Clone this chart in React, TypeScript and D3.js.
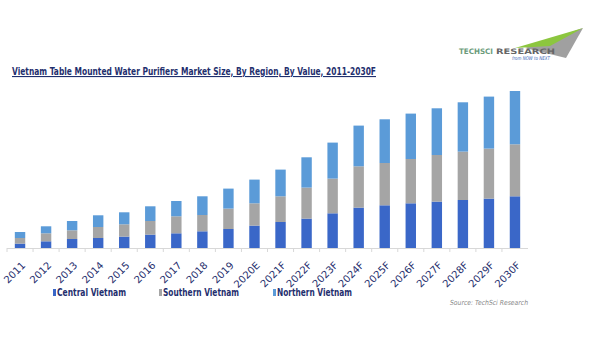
import * as d3 from 'd3';

const years = [
  '2011', '2012', '2013', '2014', '2015', '2016', '2017', '2018', '2019', '2020E',
  '2021F', '2022F', '2023F', '2024F', '2025F', '2026F', '2027F', '2028F', '2029F', '2030F',
];
const central = [4.4, 6.7, 9, 10, 11.4, 13.4, 14.7, 16.7, 19, 22.4, 26, 29.4, 34.7, 40.4, 42.7, 44.7, 46.4, 48, 49.4, 51.7];
const southern = [5.6, 8, 8.7, 11, 12.3, 13.6, 17, 16.3, 20.4, 22.3, 25.7, 31, 34.7, 41.3, 42.3, 44.3, 46.6, 48.4, 50, 52];
const northern = [6, 7, 9.3, 11.7, 12, 14.7, 15.3, 18.7, 20, 23.7, 26.7, 30.3, 36, 40.7, 43.7, 45.4, 46.7, 49.3, 52, 53.3];

const seriesNames = ['Central Vietnam', 'Southern Vietnam', 'Northern Vietnam'];
const colors = ['#3a67c8', '#a5a5a5', '#5b9bd8'];

type Row = { year: string; c: number; s: number; n: number };

export default function App() {
  const rows: Row[] = years.map((y, i) => ({ year: y, c: central[i], s: southern[i], n: northern[i] }));
  const stacked = d3.stack<Row>().keys(['c', 's', 'n'])(rows);

  const x = d3.scaleBand<string>().domain(years).range([7, 528]).paddingInner(0.6).paddingOuter(0.3);
  const y = d3.scaleLinear().domain([0, 157]).range([248, 91]);
  const step = x.step();

  const navy = '#1f2f6e';

  const legendX = [53, 159, 273];
  const legendW = [69, 76, 75];

  return (
    <svg width={602} height={350} style={{ position: 'absolute', left: 0, top: 0, background: '#fff' }}>
      {/* logo */}
      <g>
        <polygon points='525,48 583,28 566,58' fill='#a0a0a0' />
        <polygon points='515,48 583,28 550,46' fill='#8cc63f' />
        <text x={459} y={54} fontFamily='DejaVu Sans' fontSize={7.5} fontWeight='bold' textLength={34} lengthAdjust='spacingAndGlyphs' fill='#6b9b7b'>TECHSCI</text>
        <text x={496} y={54} fontFamily='DejaVu Sans' fontSize={7.5} fontWeight='bold' textLength={59} lengthAdjust='spacingAndGlyphs' fill='#666'>RESEARCH</text>
        <text x={512} y={60} fontFamily='DejaVu Sans' fontSize={5} fontStyle='italic' fill='#3a67b8' textLength={38} lengthAdjust='spacingAndGlyphs'>from NOW to NEXT</text>
      </g>

      {/* title */}
      <text x={12} y={75} fontFamily='DejaVu Sans' fontSize={11} fontWeight='bold' fill={navy} textLength={364} lengthAdjust='spacingAndGlyphs' textDecoration='underline'>
        Vietnam Table Mounted Water Purifiers Market Size, By Region, By Value, 2011-2030F
      </text>

      {/* bars */}
      {stacked.map((layer, si) => (
        <g key={`layer${si}`} fill={colors[si]}>
          {layer.map((d, i) => (
            <rect key={`bar${si}_${i}`} x={x(years[i])} y={y(d[1])} width={x.bandwidth()} height={y(d[0]) - y(d[1])} />
          ))}
        </g>
      ))}

      {/* axis */}
      <line x1={7} x2={528} y1={248.5} y2={248.5} stroke='#d8d8d8' />
      {years.map((yr, i) => {
        const tx = (x(yr) as number) - (step - x.bandwidth()) / 2;
        return <line key={`tick${i}`} x1={tx} x2={tx} y1={248} y2={252} stroke='#d8d8d8' />;
      })}
      {years.map((yr, i) => {
        const cx = (x(yr) as number) + x.bandwidth() / 2 + 6;
        return (
          <text key={`lbl${i}`} transform={`translate(${cx},${266}) rotate(-45)`} textAnchor='end' fontFamily='DejaVu Sans' fontSize={10} fill={navy}>
            {yr}
          </text>
        );
      })}

      {/* legend */}
      {seriesNames.map((name, i) => (
        <g key={`leg${i}`}>
          <rect x={legendX[i]} y={289} width={3} height={7} fill={colors[i]} />
          <text x={legendX[i] + 4} y={296} fontFamily='DejaVu Sans' fontSize={10} fontWeight='bold' fill={navy} textLength={legendW[i]} lengthAdjust='spacingAndGlyphs'>
            {name}
          </text>
        </g>
      ))}

      <text x={450} y={305} fontFamily='DejaVu Sans' fontSize={7} fontStyle='italic' fill='#888' textLength={78} lengthAdjust='spacingAndGlyphs'>
        Source: TechSci Research
      </text>
    </svg>
  );
}
